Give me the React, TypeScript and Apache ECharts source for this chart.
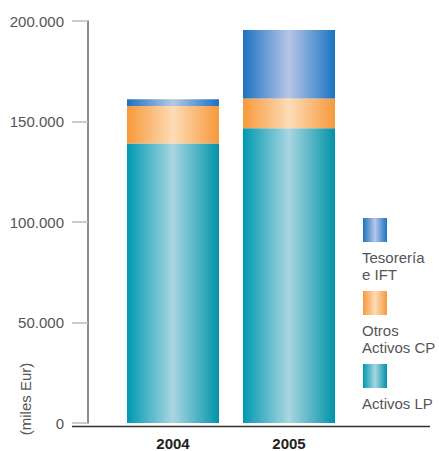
import React, { useEffect, useRef } from "react";
import * as echarts from "echarts";

const categories = ["2004", "2005"];
const seriesNames = ["Activos LP", "Otros Activos CP", "Tesorería e IFT"];
const legendLabels = [["Tesorería", "e IFT"], ["Otros", "Activos CP"], ["Activos LP"]];
const activosLP = [139000, 146700];
const otrosCP = [18700, 14800];
const tesoreria = [3400, 34000];
const yTicks = [0, 50000, 100000, 150000, 200000];

const grad = (edge: string, mid: string, edge2: string) =>
  new echarts.graphic.LinearGradient(0, 0, 1, 0, [
    { offset: 0, color: edge },
    { offset: 0.5, color: mid },
    { offset: 1, color: edge2 },
  ]);

const colors = [
  ["#0099b1", "#a9d6e1", "#0093a9"],
  ["#f7993a", "#fddcb6", "#f6993b"],
  ["#1c72c0", "#b7c6e8", "#1a73c2"],
];

export default function App() {
  const ref = useRef<HTMLDivElement>(null);
  useEffect(() => {
    if (!ref.current) return;
    const chart = echarts.init(ref.current, null, { renderer: "svg" });
    const fmt = (v: number) =>
      String(v).replace(/\B(?=(\d{3})+(?!\d))/g, ".");
    const values = [activosLP, otrosCP, tesoreria];
    const font = "'Liberation Sans', Arial, sans-serif";
    const legendGraphics: any[] = [];
    const legendOrder = [2, 1, 0];
    const iconY = [218, 291, 364];
    legendOrder.forEach((si, i) => {
      legendGraphics.push({
        type: "rect",
        shape: { x: 363, y: iconY[i], width: 24, height: 24 },
        style: { fill: grad(colors[si][0], colors[si][1], colors[si][2]) },
      });
      legendLabels[i].forEach((line, j) => {
        legendGraphics.push({
          type: "text",
          x: 362,
          y: iconY[i] + 39 + j * 17,
          style: {
            text: line,
            font: `15px ${font}`,
            fill: "#555",
            textVerticalAlign: "middle",
            verticalAlign: "middle",
          },
        });
      });
    });
    chart.setOption({
      animation: false,
      grid: { left: 115, top: 21, width: 232, height: 405 },
      xAxis: {
        type: "category",
        data: categories,
        axisLine: { show: false },
        axisTick: { show: false },
        axisLabel: {
          margin: 13,
          color: "#222",
          fontWeight: "bold",
          fontSize: 15,
          fontFamily: font,
        },
      },
      yAxis: {
        type: "value",
        min: 0,
        max: 200000,
        interval: 50000,
        offset: 27,
        axisLine: { show: true, lineStyle: { color: "#666", width: 1.5 } },
        axisTick: {
          show: true,
          length: 16,
          lineStyle: { color: "#bbb", width: 1.5 },
        },
        splitLine: { show: false },
        axisLabel: {
          margin: 24,
          color: "#555",
          fontSize: 15,
          fontFamily: font,
          formatter: (v: number) => (yTicks.includes(v) ? fmt(v) : ""),
        },
      },
      series: values.map((d, i) => ({
        name: seriesNames[i],
        type: "bar",
        stack: "total",
        barWidth: 92,
        data: d,
        itemStyle: { color: grad(colors[i][0], colors[i][1], colors[i][2]) },
      })),
      graphic: [
        {
          type: "line",
          shape: { x1: 72, y1: 426.5, x2: 430, y2: 426.5 },
          style: { stroke: "#333", lineWidth: 1.5 },
          z: 10,
        },
        {
          type: "text",
          x: 25,
          y: 399,
          rotation: Math.PI / 2,
          style: {
            text: "(miles Eur)",
            font: `15px ${font}`,
            fill: "#555",
            textAlign: "center",
            textVerticalAlign: "middle",
            align: "center",
            verticalAlign: "middle",
          },
        },
        ...legendGraphics,
      ],
    });
    return () => chart.dispose();
  }, []);
  return <div ref={ref} style={{ width: 439, height: 451, position: "absolute", left: 0, top: 0 }} />;
}
